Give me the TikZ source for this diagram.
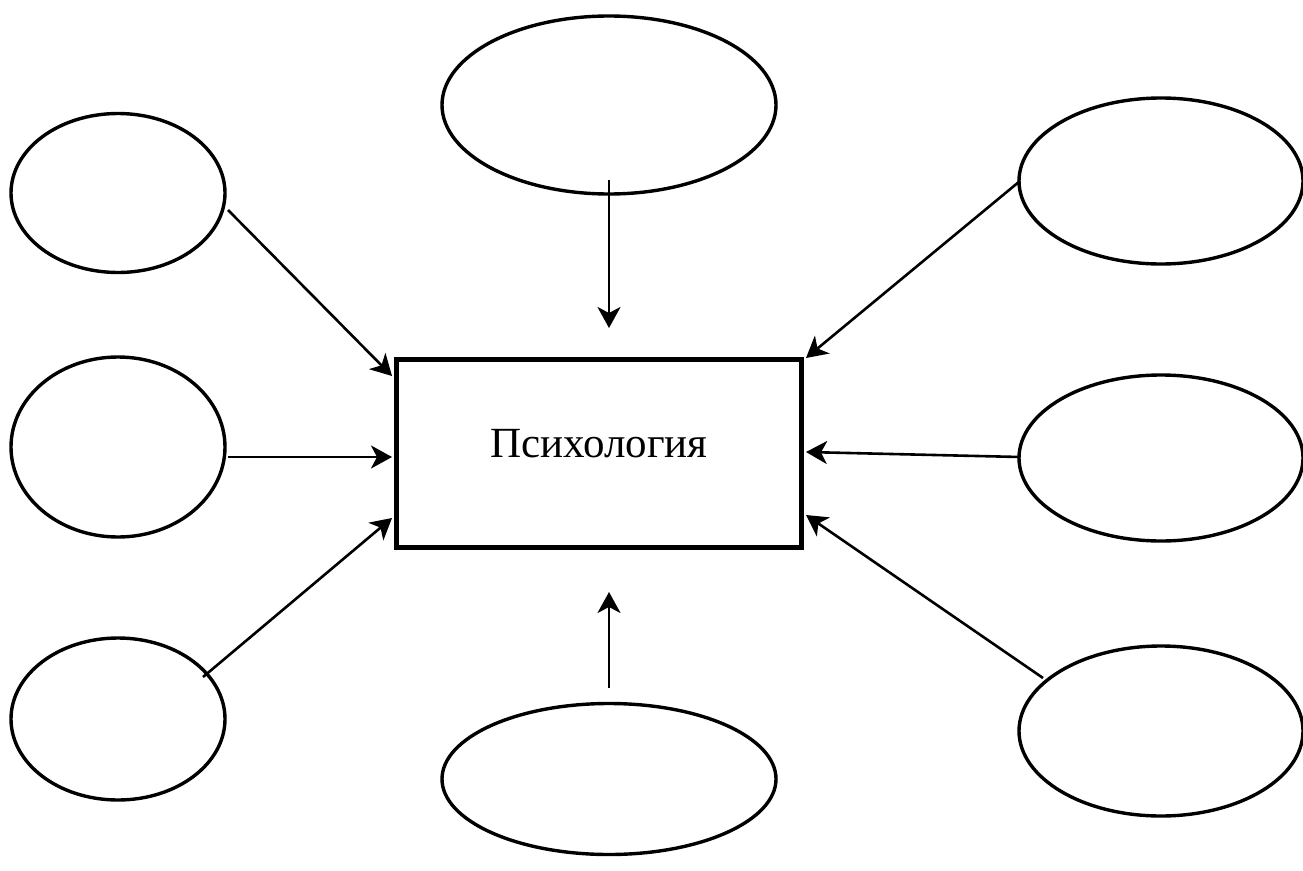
\documentclass[tikz,border=0pt]{standalone}
\usepackage{fontspec}
\setmainfont{Liberation Serif}
\usetikzlibrary{shapes.geometric,arrows.meta}
\tikzset{
  oval/.style={draw, ellipse, line width=3.4pt, inner sep=0pt},
  arr/.style={line width=2.6pt, -{Stealth[length=21pt,width=23pt,inset=6pt]}},
  mainbox/.style={draw, line width=5pt, minimum width=405pt, minimum height=188pt, inner sep=0pt},
  lbl/.style={inner sep=0pt, font=\fontsize{43}{50}\selectfont}
}
\begin{document}
\begin{tikzpicture}[x=1pt,y=-1pt]
\useasboundingbox (0,0) rectangle (1303,870);
% ellipses
\node[oval, minimum width=334pt, minimum height=178pt] (tc) at (609,105) {};
\node[oval, minimum width=214pt, minimum height=159pt] (lt) at (118,193) {};
\node[oval, minimum width=214pt, minimum height=180pt] (lm) at (118,447) {};
\node[oval, minimum width=214pt, minimum height=162pt] (lb) at (118,719) {};
\node[oval, minimum width=284pt, minimum height=166pt] (rt) at (1161,181) {};
\node[oval, minimum width=284pt, minimum height=166pt] (rm) at (1161,458) {};
\node[oval, minimum width=284pt, minimum height=170pt] (rb) at (1161,731) {};
\node[oval, minimum width=334pt, minimum height=151pt] (bc) at (609,779) {};
% central box
\node[mainbox] (box) at (598.5,453) {};
\node[lbl, anchor=base] (title) at (599,457) {Психология};
% free ends
\coordinate (s1) at (609,180);  \coordinate (e1) at (609,328);
\coordinate (s2) at (609,688);  \coordinate (e2) at (609,592);
\coordinate (s3) at (228,210);  \coordinate (e3) at (392,376);
\coordinate (s4) at (228,457);  \coordinate (e4) at (392,457);
\coordinate (s5) at (203,677);  \coordinate (e5) at (392,518);
\coordinate (s6) at (1020,181); \coordinate (e6) at (806,358);
\coordinate (s7) at (1020,457); \coordinate (e7) at (806,452);
\coordinate (s8) at (1043,678); \coordinate (e8) at (806,515);
\draw[arr] (s1) -- (e1);
\draw[arr] (s2) -- (e2);
\draw[arr] (s3) -- (e3);
\draw[arr] (s4) -- (e4);
\draw[arr] (s5) -- (e5);
\draw[arr] (s6) -- (e6);
\draw[arr] (s7) -- (e7);
\draw[arr] (s8) -- (e8);
\end{tikzpicture}
\end{document}
